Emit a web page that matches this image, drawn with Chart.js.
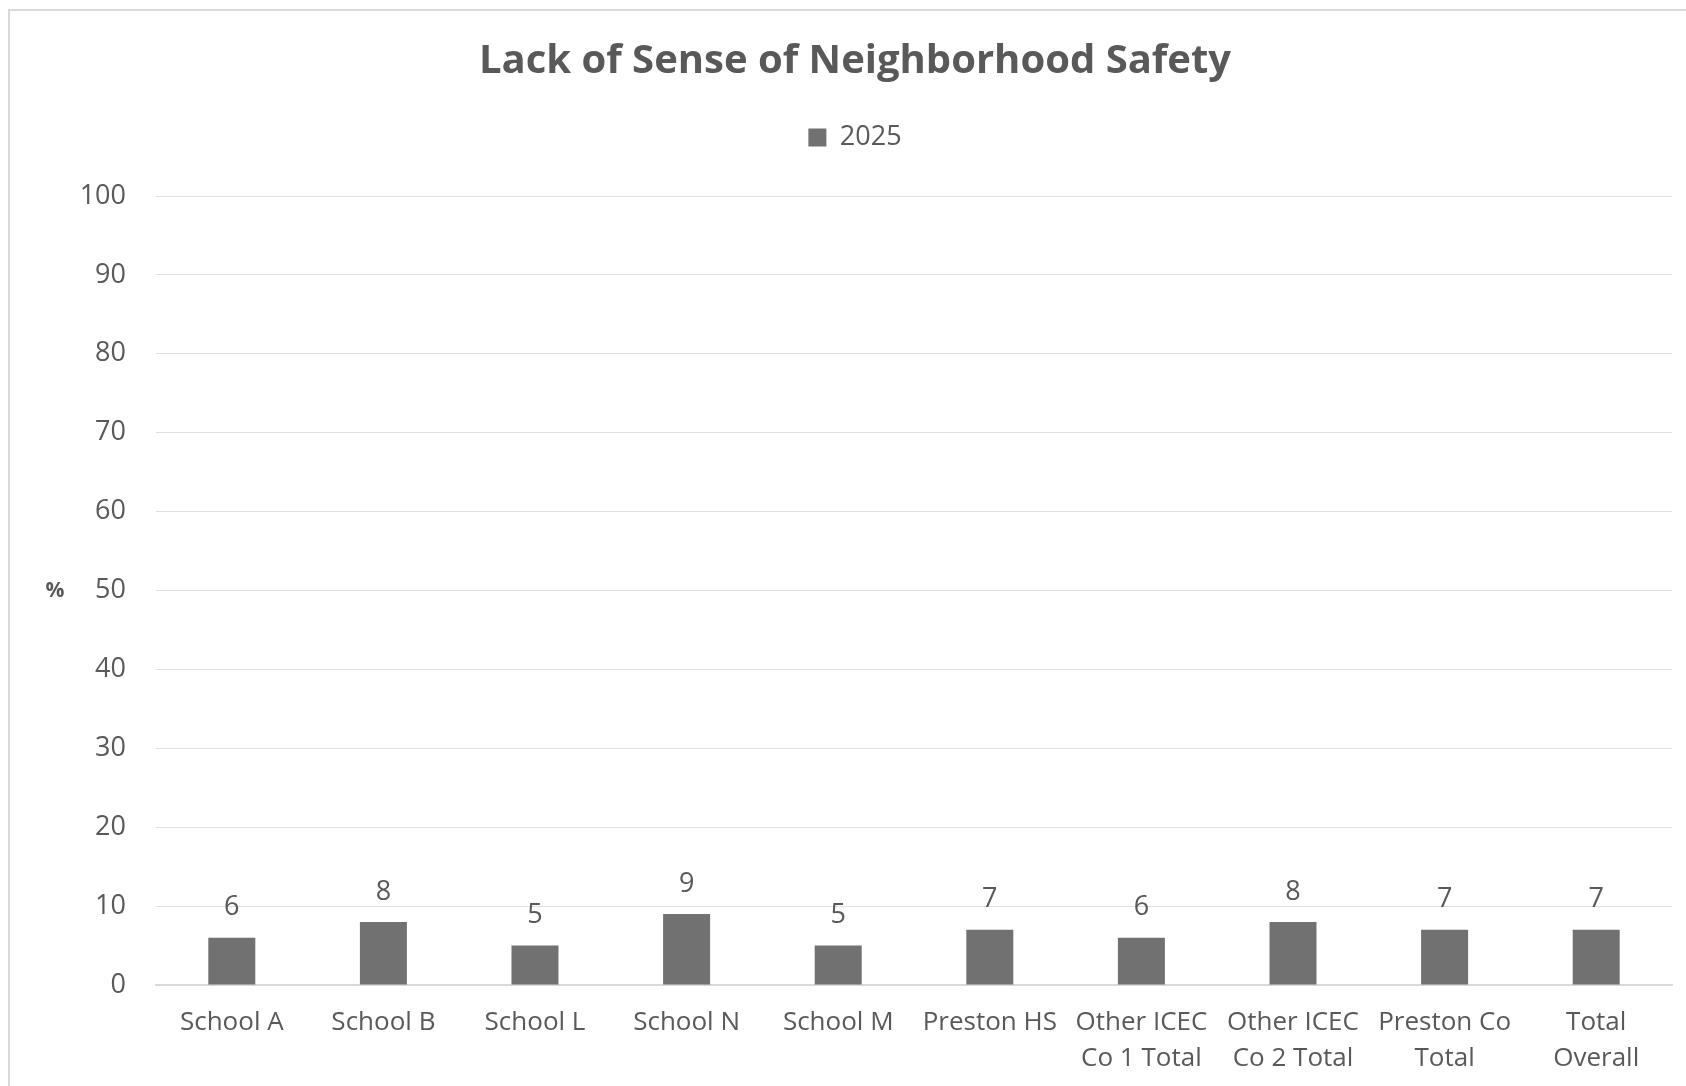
<!DOCTYPE html>
<html>
<head>
<meta charset="utf-8">
<script src="https://cdn.jsdelivr.net/npm/chart.js@4/dist/chart.umd.min.js"></script>
<style>
  html, body { margin: 0; padding: 0; background: #ffffff; }
  #wrap { position: absolute; left: 0; top: 0; width: 1686px; height: 1086px; }
  #frame { position: absolute; left: 8px; top: 9px; width: 1700px; height: 1100px; border: 2px solid #d9d9d9; box-sizing: border-box; }
  canvas { position: absolute; left: 0; top: 0; }
</style>
</head>
<body>
<div id="wrap">
  <div id="frame"></div>
  <canvas id="c" width="1686" height="1086"></canvas>
</div>
<script>
const titleText = 'Lack of Sense of Neighborhood Safety';
const seriesName = '2025';
const categories = [
  'School A', 'School B', 'School L', 'School N', 'School M', 'Preston HS',
  ['Other ICEC', 'Co 1 Total'], ['Other ICEC', 'Co 2 Total'], ['Preston Co', 'Total'], ['Total', 'Overall']
];
const values2025 = [6, 8, 5, 9, 5, 7, 6, 8, 7, 7];
const yAxisLabel = '%';

const FONT = "'Open Sans', 'Noto Sans', sans-serif";
const TEXT = '#595959';

const valueLabels = {
  id: 'valueLabels',
  afterDatasetsDraw(chart) {
    const ctx = chart.ctx;
    ctx.save();
    ctx.font = '27px ' + FONT;
    ctx.fillStyle = TEXT;
    ctx.textAlign = 'center';
    ctx.textBaseline = 'middle';
    chart.data.datasets.forEach((ds, i) => {
      chart.getDatasetMeta(i).data.forEach((el, j) => {
        ctx.fillText(String(ds.data[j]), el.x, el.y - 30);
      });
    });
    ctx.restore();
  }
};

const axisUnit = {
  id: 'axisUnit',
  afterDraw(chart) {
    const ctx = chart.ctx;
    const a = chart.chartArea;
    ctx.save();
    ctx.font = 'bold 21px ' + FONT;
    ctx.fillStyle = TEXT;
    ctx.textAlign = 'center';
    ctx.textBaseline = 'middle';
    ctx.fillText(yAxisLabel, 55, (a.top + a.bottom) / 2 + 1);
    ctx.restore();
  }
};

// extra gap below the legend
const legendGap = {
  id: 'legendGap',
  beforeLayout(chart) {
    const lg = chart.legend;
    if (lg && !lg._gapPatched) {
      const fit = lg.fit;
      lg.fit = function () { fit.call(this); this.height += 35; };
      lg._gapPatched = true;
    }
  }
};

new Chart(document.getElementById('c'), {
  type: 'bar',
  data: {
    labels: categories,
    datasets: [{
      label: seriesName,
      data: values2025,
      backgroundColor: '#717171',
      borderWidth: 0,
      categoryPercentage: 1,
      barPercentage: 0.31
    }]
  },
  options: {
    responsive: false,
    animation: false,
    devicePixelRatio: 1,
    layout: { padding: { top: 38, left: 38, right: 14, bottom: 0 } },
    plugins: {
      title: {
        display: true,
        text: titleText,
        color: TEXT,
        font: { family: FONT, size: 40, weight: 'bold' },
        padding: { top: 0, bottom: 28 }
      },
      legend: {
        display: true,
        position: 'top',
        labels: {
          color: TEXT,
          font: { family: FONT, size: 27 },
          boxWidth: 18,
          boxHeight: 18,
          padding: 10
        }
      },
      tooltip: { enabled: false }
    },
    scales: {
      x: {
        afterFit(scale) { scale.height = 101; },
        grid: { display: false, drawTicks: false },
        border: { display: true, color: '#d9d9d9', width: 2 },
        ticks: { color: TEXT, font: { family: FONT, size: 26, lineHeight: 1.4 }, padding: 19, maxRotation: 0, autoSkip: false }
      },
      y: {
        min: 0,
        max: 100,
        afterFit(scale) { scale.width = 118; },
        grid: { color: '#e0e0e0', lineWidth: 1, drawTicks: false },
        border: { display: false },
        ticks: { stepSize: 10, color: TEXT, font: { family: FONT, size: 27 }, padding: 30 }
      }
    }
  },
  plugins: [valueLabels, axisUnit, legendGap]
});
</script>
</body>
</html>
